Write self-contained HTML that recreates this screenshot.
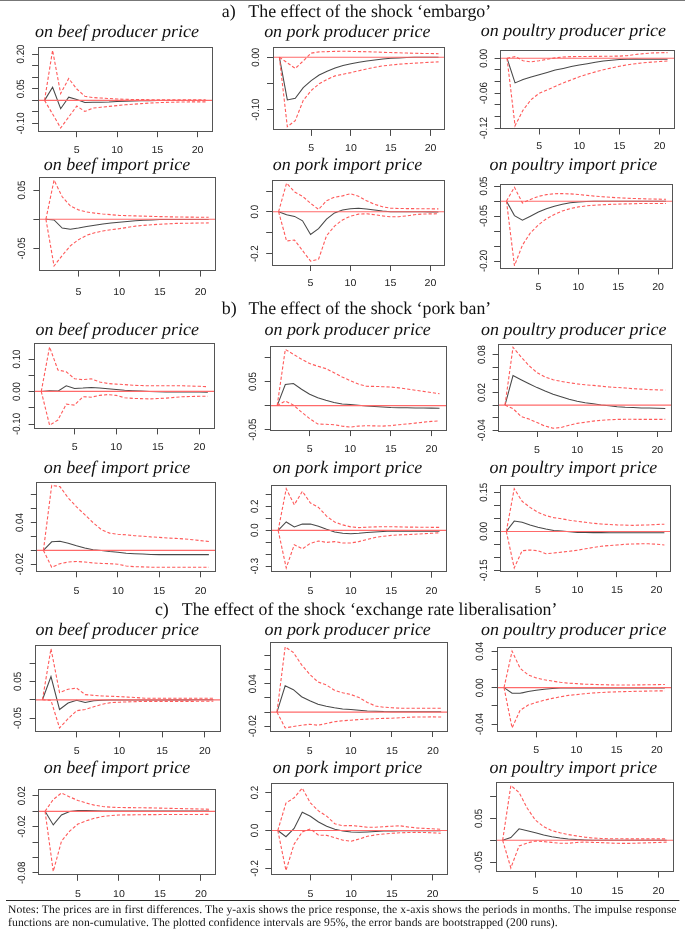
<!DOCTYPE html>
<html><head><meta charset="utf-8"><style>
html,body{margin:0;padding:0;background:#fff;}
svg{display:block;text-rendering:geometricPrecision;}
.ti{font-family:"Liberation Serif",serif;font-style:italic;font-size:17.7px;fill:#111;}
.hd{font-family:"Liberation Serif",serif;font-size:17.9px;fill:#111;}
.ax{font-family:"Liberation Sans",sans-serif;font-size:10.6px;fill:#222;}
.nt{font-family:"Liberation Serif",serif;font-size:11.6px;fill:#111;}
</style></head><body>
<svg width="685" height="932" viewBox="0 0 685 932">
<rect width="685" height="932" fill="#fff"/>
<g opacity="0.999">
<line x1="0" y1="0.5" x2="685" y2="0.5" stroke="#777" stroke-width="1"/>
<text x="221.8" y="16.5" class="hd">a)</text>
<text x="248.3" y="16.5" class="hd" textLength="242.9" lengthAdjust="spacingAndGlyphs">The effect of the shock ‘embargo’</text>
<text x="221.7" y="314.4" class="hd">b)</text>
<text x="248.5" y="314.4" class="hd" textLength="242.7" lengthAdjust="spacingAndGlyphs">The effect of the shock ‘pork ban’</text>
<text x="154.9" y="615" class="hd">c)</text>
<text x="181.8" y="615" class="hd" textLength="375.6" lengthAdjust="spacingAndGlyphs">The effect of the shock ‘exchange rate liberalisation’</text>
<text x="34.95" y="36.9" class="ti" textLength="164.2" lengthAdjust="spacingAndGlyphs">on beef producer price</text>
<polyline points="44.54,100.4 52.6,87.3 60.66,108.7 68.71,97.2 76.77,99.5 84.82,102.4 92.88,102.2 100.93,102.3 108.99,102 117.04,101.5 125.1,101.2 133.16,101 141.21,100.8 149.27,100.7 157.32,100.6 165.38,100.5 173.43,100.5 181.49,100.4 189.54,100.4 197.6,100.4 205.66,100.4" fill="none" stroke="#484848" stroke-width="1.05"/>
<line x1="38.1" y1="100.4" x2="212.1" y2="100.4" stroke="#ff6a6a" stroke-width="1.15"/>
<polyline points="44.54,100.4 52.6,50.3 60.66,93.6 68.71,78.5 76.77,89 84.82,96.2 92.88,97.6 100.93,98 108.99,98.5 117.04,99 125.1,99.3 133.16,99.5 141.21,99.6 149.27,99.7 157.32,99.7 165.38,99.7 173.43,99.7 181.49,99.7 189.54,99.7 197.6,99.7 205.66,99.7" fill="none" stroke="#ff5a5a" stroke-width="1.1" stroke-dasharray="3.2 2"/>
<polyline points="44.54,100.4 52.6,114 60.66,128 68.71,117 76.77,106.1 84.82,111.4 92.88,108.1 100.93,107.2 108.99,106.4 117.04,105.6 125.1,104.8 133.16,104.2 141.21,103.6 149.27,103.1 157.32,102.7 165.38,102.4 173.43,102.2 181.49,102 189.54,101.9 197.6,101.9 205.66,101.9" fill="none" stroke="#ff5a5a" stroke-width="1.1" stroke-dasharray="3.2 2"/>
<rect x="38.5" y="47.5" width="174" height="84" fill="none" stroke="#555555" stroke-width="1"/>
<line x1="76.5" y1="131.2" x2="76.5" y2="137.2" stroke="#4a4a4a" stroke-width="1"/>
<text transform="translate(76.77,152.6) scale(1,0.94)" class="ax" text-anchor="middle">5</text>
<line x1="117.5" y1="131.2" x2="117.5" y2="137.2" stroke="#4a4a4a" stroke-width="1"/>
<text transform="translate(117.04,152.6) scale(1,0.94)" class="ax" text-anchor="middle">10</text>
<line x1="157.5" y1="131.2" x2="157.5" y2="137.2" stroke="#4a4a4a" stroke-width="1"/>
<text transform="translate(157.32,152.6) scale(1,0.94)" class="ax" text-anchor="middle">15</text>
<line x1="197.5" y1="131.2" x2="197.5" y2="137.2" stroke="#4a4a4a" stroke-width="1"/>
<text transform="translate(197.6,152.6) scale(1,0.94)" class="ax" text-anchor="middle">20</text>
<line x1="32.1" y1="54.5" x2="38.1" y2="54.5" stroke="#4a4a4a" stroke-width="1"/>
<text transform="translate(23.7,54) rotate(-90) scale(0.92,1)" class="ax" text-anchor="middle">0.20</text>
<line x1="32.1" y1="65.5" x2="38.1" y2="65.5" stroke="#4a4a4a" stroke-width="1"/>
<line x1="32.1" y1="77.5" x2="38.1" y2="77.5" stroke="#4a4a4a" stroke-width="1"/>
<line x1="32.1" y1="88.5" x2="38.1" y2="88.5" stroke="#4a4a4a" stroke-width="1"/>
<text transform="translate(23.7,88.71) rotate(-90) scale(0.92,1)" class="ax" text-anchor="middle">0.05</text>
<line x1="32.1" y1="100.5" x2="38.1" y2="100.5" stroke="#4a4a4a" stroke-width="1"/>
<line x1="32.1" y1="111.5" x2="38.1" y2="111.5" stroke="#4a4a4a" stroke-width="1"/>
<line x1="32.1" y1="123.5" x2="38.1" y2="123.5" stroke="#4a4a4a" stroke-width="1"/>
<text transform="translate(23.7,123.42) rotate(-90) scale(0.92,1)" class="ax" text-anchor="middle">-0.10</text>
<text x="264.15" y="36.9" class="ti" textLength="166.3" lengthAdjust="spacingAndGlyphs">on pork producer price</text>
<polyline points="279.37,57.2 287.32,99.9 295.28,98.2 303.24,87.7 311.2,80.6 319.16,75 327.12,71.2 335.07,68 343.03,65.4 350.99,63.7 358.95,62.2 366.91,61 374.87,59.9 382.82,58.9 390.78,58.3 398.74,57.9 406.7,57.6 414.66,57.3 422.62,57.27 430.57,57.23 438.53,57.2" fill="none" stroke="#484848" stroke-width="1.05"/>
<line x1="273" y1="57.2" x2="444.9" y2="57.2" stroke="#ff6a6a" stroke-width="1.15"/>
<polyline points="279.37,57.2 287.32,62.8 295.28,68.4 303.24,61 311.2,53.1 319.16,51.9 327.12,51.6 335.07,51.4 343.03,51.2 350.99,51.4 358.95,51.6 366.91,51.7 374.87,52 382.82,52.3 390.78,52.55 398.74,52.8 406.7,53.05 414.66,53.3 422.62,53.43 430.57,53.57 438.53,53.7" fill="none" stroke="#ff5a5a" stroke-width="1.1" stroke-dasharray="3.2 2"/>
<polyline points="279.37,57.2 287.32,126.7 295.28,120.6 303.24,100.4 311.2,90.5 319.16,83.8 327.12,79.4 335.07,75.9 343.03,74.2 350.99,72.6 358.95,70.7 366.91,68.9 374.87,67.3 382.82,65.9 390.78,65.05 398.74,64.2 406.7,63.65 414.66,63.1 422.62,62.7 430.57,62.3 438.53,61.9" fill="none" stroke="#ff5a5a" stroke-width="1.1" stroke-dasharray="3.2 2"/>
<rect x="273.5" y="47.5" width="171" height="82" fill="none" stroke="#555555" stroke-width="1"/>
<line x1="311.5" y1="129.9" x2="311.5" y2="135.9" stroke="#4a4a4a" stroke-width="1"/>
<text transform="translate(311.2,151) scale(1,0.94)" class="ax" text-anchor="middle">5</text>
<line x1="350.5" y1="129.9" x2="350.5" y2="135.9" stroke="#4a4a4a" stroke-width="1"/>
<text transform="translate(350.99,151) scale(1,0.94)" class="ax" text-anchor="middle">10</text>
<line x1="390.5" y1="129.9" x2="390.5" y2="135.9" stroke="#4a4a4a" stroke-width="1"/>
<text transform="translate(390.78,151) scale(1,0.94)" class="ax" text-anchor="middle">15</text>
<line x1="430.5" y1="129.9" x2="430.5" y2="135.9" stroke="#4a4a4a" stroke-width="1"/>
<text transform="translate(430.57,151) scale(1,0.94)" class="ax" text-anchor="middle">20</text>
<line x1="267" y1="57.5" x2="273" y2="57.5" stroke="#4a4a4a" stroke-width="1"/>
<text transform="translate(258.9,57.2) rotate(-90) scale(0.92,1)" class="ax" text-anchor="middle">0.00</text>
<line x1="267" y1="83.5" x2="273" y2="83.5" stroke="#4a4a4a" stroke-width="1"/>
<line x1="267" y1="109.5" x2="273" y2="109.5" stroke="#4a4a4a" stroke-width="1"/>
<text transform="translate(258.9,109.6) rotate(-90) scale(0.92,1)" class="ax" text-anchor="middle">-0.10</text>
<text x="480.85" y="36.4" class="ti" textLength="185.2" lengthAdjust="spacingAndGlyphs">on poultry producer price</text>
<polyline points="507.02,58.2 515.05,82.9 523.08,79.4 531.11,77.1 539.13,74.7 547.16,72.4 555.19,70.1 563.22,68.4 571.24,66.6 579.27,65.1 587.3,63.7 595.33,62.2 603.36,61.1 611.38,60.2 619.41,59.6 627.44,59.2 635.47,59.1 643.49,59.2 651.52,59.23 659.55,59.27 667.58,59.3" fill="none" stroke="#484848" stroke-width="1.05"/>
<line x1="500.6" y1="58.2" x2="674" y2="58.2" stroke="#ff6a6a" stroke-width="1.15"/>
<polyline points="507.02,58.2 515.05,56.6 523.08,60.7 531.11,61.9 539.13,60.7 547.16,59.3 555.19,57.9 563.22,57 571.24,56.6 579.27,56.5 587.3,56.45 595.33,56.4 603.36,56.3 611.38,56.2 619.41,56.1 627.44,55.6 635.47,54.5 643.49,53.6 651.52,53 659.55,52.7 667.58,52.6" fill="none" stroke="#ff5a5a" stroke-width="1.1" stroke-dasharray="3.2 2"/>
<polyline points="507.02,58.2 515.05,125.8 523.08,110.1 531.11,99.6 539.13,93.4 547.16,89.9 555.19,86.4 563.22,82.9 571.24,79.9 579.27,76.8 587.3,74.2 595.33,71.9 603.36,69.8 611.38,68 619.41,66.3 627.44,64.8 635.47,63.75 643.49,62.7 651.52,62.13 659.55,61.57 667.58,61" fill="none" stroke="#ff5a5a" stroke-width="1.1" stroke-dasharray="3.2 2"/>
<rect x="500.5" y="50.5" width="174" height="78" fill="none" stroke="#555555" stroke-width="1"/>
<line x1="539.5" y1="128.5" x2="539.5" y2="134.5" stroke="#4a4a4a" stroke-width="1"/>
<text transform="translate(539.13,149) scale(1,0.94)" class="ax" text-anchor="middle">5</text>
<line x1="579.5" y1="128.5" x2="579.5" y2="134.5" stroke="#4a4a4a" stroke-width="1"/>
<text transform="translate(579.27,149) scale(1,0.94)" class="ax" text-anchor="middle">10</text>
<line x1="619.5" y1="128.5" x2="619.5" y2="134.5" stroke="#4a4a4a" stroke-width="1"/>
<text transform="translate(619.41,149) scale(1,0.94)" class="ax" text-anchor="middle">15</text>
<line x1="659.5" y1="128.5" x2="659.5" y2="134.5" stroke="#4a4a4a" stroke-width="1"/>
<text transform="translate(659.55,149) scale(1,0.94)" class="ax" text-anchor="middle">20</text>
<line x1="494.6" y1="58.5" x2="500.6" y2="58.5" stroke="#4a4a4a" stroke-width="1"/>
<text transform="translate(486.6,58.2) rotate(-90) scale(0.92,1)" class="ax" text-anchor="middle">0.00</text>
<line x1="494.6" y1="69.5" x2="500.6" y2="69.5" stroke="#4a4a4a" stroke-width="1"/>
<line x1="494.6" y1="81.5" x2="500.6" y2="81.5" stroke="#4a4a4a" stroke-width="1"/>
<line x1="494.6" y1="93.5" x2="500.6" y2="93.5" stroke="#4a4a4a" stroke-width="1"/>
<text transform="translate(486.6,93.15) rotate(-90) scale(0.92,1)" class="ax" text-anchor="middle">-0.06</text>
<line x1="494.6" y1="104.5" x2="500.6" y2="104.5" stroke="#4a4a4a" stroke-width="1"/>
<line x1="494.6" y1="116.5" x2="500.6" y2="116.5" stroke="#4a4a4a" stroke-width="1"/>
<line x1="494.6" y1="128.5" x2="500.6" y2="128.5" stroke="#4a4a4a" stroke-width="1"/>
<text transform="translate(486.6,128.1) rotate(-90) scale(0.92,1)" class="ax" text-anchor="middle">-0.12</text>
<text x="43.85" y="170.2" class="ti" textLength="146.4" lengthAdjust="spacingAndGlyphs">on beef import price</text>
<polyline points="45.91,219.2 54.05,219.9 62.19,228 70.33,229.2 78.47,228 86.61,226.6 94.74,225.2 102.88,223.9 111.02,223.1 119.16,222.2 127.3,221.4 135.44,220.8 143.58,220.3 151.72,219.9 159.86,219.6 167.99,219.5 176.13,219.4 184.27,219.4 192.41,219.4 200.55,219.4 208.69,219.4" fill="none" stroke="#484848" stroke-width="1.05"/>
<line x1="39.4" y1="219.2" x2="215.2" y2="219.2" stroke="#ff6a6a" stroke-width="1.15"/>
<polyline points="45.91,219.2 54.05,180.1 62.19,196.8 70.33,205.9 78.47,209.9 86.61,212 94.74,213.1 102.88,214 111.02,214.7 119.16,215.4 127.3,215.65 135.44,215.9 143.58,216.15 151.72,216.4 159.86,216.6 167.99,216.8 176.13,217 184.27,217.07 192.41,217.15 200.55,217.23 208.69,217.3" fill="none" stroke="#ff5a5a" stroke-width="1.1" stroke-dasharray="3.2 2"/>
<polyline points="45.91,219.2 54.05,266 62.19,255.5 70.33,245.8 78.47,239.7 86.61,235.3 94.74,232.7 102.88,231 111.02,229.7 119.16,228.7 127.3,227.4 135.44,226.1 143.58,225.4 151.72,224.7 159.86,224.27 167.99,223.83 176.13,223.4 184.27,223.28 192.41,223.15 200.55,223.03 208.69,222.9" fill="none" stroke="#ff5a5a" stroke-width="1.1" stroke-dasharray="3.2 2"/>
<rect x="39.5" y="177.5" width="176" height="93" fill="none" stroke="#555555" stroke-width="1"/>
<line x1="78.5" y1="270.6" x2="78.5" y2="276.6" stroke="#4a4a4a" stroke-width="1"/>
<text transform="translate(78.47,295) scale(1,0.94)" class="ax" text-anchor="middle">5</text>
<line x1="119.5" y1="270.6" x2="119.5" y2="276.6" stroke="#4a4a4a" stroke-width="1"/>
<text transform="translate(119.16,295) scale(1,0.94)" class="ax" text-anchor="middle">10</text>
<line x1="159.5" y1="270.6" x2="159.5" y2="276.6" stroke="#4a4a4a" stroke-width="1"/>
<text transform="translate(159.86,295) scale(1,0.94)" class="ax" text-anchor="middle">15</text>
<line x1="200.5" y1="270.6" x2="200.5" y2="276.6" stroke="#4a4a4a" stroke-width="1"/>
<text transform="translate(200.55,295) scale(1,0.94)" class="ax" text-anchor="middle">20</text>
<line x1="33.4" y1="190.5" x2="39.4" y2="190.5" stroke="#4a4a4a" stroke-width="1"/>
<text transform="translate(24.5,190.1) rotate(-90) scale(0.92,1)" class="ax" text-anchor="middle">0.05</text>
<line x1="33.4" y1="219.5" x2="39.4" y2="219.5" stroke="#4a4a4a" stroke-width="1"/>
<line x1="33.4" y1="248.5" x2="39.4" y2="248.5" stroke="#4a4a4a" stroke-width="1"/>
<text transform="translate(24.5,248.5) rotate(-90) scale(0.92,1)" class="ax" text-anchor="middle">-0.05</text>
<text x="272.85" y="170.2" class="ti" textLength="149.4" lengthAdjust="spacingAndGlyphs">on pork import price</text>
<polyline points="278.59,211.7 286.58,214.7 294.57,216.4 302.56,220.8 310.56,234.5 318.55,228.7 326.54,219.1 334.53,212.9 342.52,209.9 350.51,208.7 358.5,208.2 366.49,208.9 374.48,209.9 382.47,211 390.46,211.7 398.45,211.73 406.44,211.77 414.44,211.8 422.43,211.83 430.42,211.87 438.41,211.9" fill="none" stroke="#484848" stroke-width="1.05"/>
<line x1="272.2" y1="211.7" x2="444.8" y2="211.7" stroke="#ff6a6a" stroke-width="1.15"/>
<polyline points="278.59,211.7 286.58,183.1 294.57,191.9 302.56,196.3 310.56,203.3 318.55,209.4 326.54,200.7 334.53,197.2 342.52,195.9 350.51,193.7 358.5,196.3 366.49,200.7 374.48,204.2 382.47,206.8 390.46,208.2 398.45,208.5 406.44,208.58 414.44,208.66 422.43,208.74 430.42,208.82 438.41,208.9" fill="none" stroke="#ff5a5a" stroke-width="1.1" stroke-dasharray="3.2 2"/>
<polyline points="278.59,211.7 286.58,241 294.57,240.1 302.56,250.6 310.56,261.1 318.55,259.3 326.54,235.7 334.53,226.1 342.52,219.9 350.51,216.2 358.5,214.1 366.49,213.8 374.48,214.7 382.47,215.9 390.46,216.8 398.45,216.8 406.44,215.9 414.44,214.7 422.43,214 430.42,213.9 438.41,213.8" fill="none" stroke="#ff5a5a" stroke-width="1.1" stroke-dasharray="3.2 2"/>
<rect x="272.5" y="180.5" width="172" height="85" fill="none" stroke="#555555" stroke-width="1"/>
<line x1="310.5" y1="265" x2="310.5" y2="271" stroke="#4a4a4a" stroke-width="1"/>
<text transform="translate(310.56,286.2) scale(1,0.94)" class="ax" text-anchor="middle">5</text>
<line x1="350.5" y1="265" x2="350.5" y2="271" stroke="#4a4a4a" stroke-width="1"/>
<text transform="translate(350.51,286.2) scale(1,0.94)" class="ax" text-anchor="middle">10</text>
<line x1="390.5" y1="265" x2="390.5" y2="271" stroke="#4a4a4a" stroke-width="1"/>
<text transform="translate(390.46,286.2) scale(1,0.94)" class="ax" text-anchor="middle">15</text>
<line x1="430.5" y1="265" x2="430.5" y2="271" stroke="#4a4a4a" stroke-width="1"/>
<text transform="translate(430.42,286.2) scale(1,0.94)" class="ax" text-anchor="middle">20</text>
<line x1="266.2" y1="191.5" x2="272.2" y2="191.5" stroke="#4a4a4a" stroke-width="1"/>
<line x1="266.2" y1="211.5" x2="272.2" y2="211.5" stroke="#4a4a4a" stroke-width="1"/>
<text transform="translate(258.4,211.7) rotate(-90) scale(0.92,1)" class="ax" text-anchor="middle">0.0</text>
<line x1="266.2" y1="232.5" x2="272.2" y2="232.5" stroke="#4a4a4a" stroke-width="1"/>
<line x1="266.2" y1="253.5" x2="272.2" y2="253.5" stroke="#4a4a4a" stroke-width="1"/>
<text transform="translate(258.4,253.7) rotate(-90) scale(0.92,1)" class="ax" text-anchor="middle">-0.2</text>
<text x="489.45" y="170.2" class="ti" textLength="167.9" lengthAdjust="spacingAndGlyphs">on poultry import price</text>
<polyline points="506.48,201.2 514.46,215.6 522.44,220.2 530.41,216.2 538.39,212.1 546.37,208.8 554.34,206.2 562.32,204.3 570.3,202.7 578.27,201.9 586.25,201.5 594.23,201.2 602.2,201.2 610.18,201.2 618.16,201.2 626.13,201.2 634.11,201.2 642.09,201.2 650.06,201.2 658.04,201.2 666.02,201.2" fill="none" stroke="#484848" stroke-width="1.05"/>
<line x1="500.1" y1="201.2" x2="672.4" y2="201.2" stroke="#ff6a6a" stroke-width="1.15"/>
<polyline points="506.48,201.1 514.46,187.3 522.44,203 530.41,199.5 538.39,196.4 546.37,194.6 554.34,193.7 562.32,193.6 570.3,193.9 578.27,194.5 586.25,195.3 594.23,196.1 602.2,196.7 610.18,197.3 618.16,197.75 626.13,198.2 634.11,198.5 642.09,198.8 650.06,198.97 658.04,199.13 666.02,199.3" fill="none" stroke="#ff5a5a" stroke-width="1.1" stroke-dasharray="3.2 2"/>
<polyline points="506.48,201.1 514.46,265.7 522.44,245.1 530.41,232.8 538.39,224.9 546.37,218.8 554.34,214.4 562.32,210.9 570.3,208.6 578.27,206.9 586.25,205.9 594.23,205.2 602.2,204.8 610.18,204.4 618.16,204.15 626.13,203.9 634.11,203.7 642.09,203.5 650.06,203.5 658.04,203.5 666.02,203.5" fill="none" stroke="#ff5a5a" stroke-width="1.1" stroke-dasharray="3.2 2"/>
<rect x="500.5" y="184.5" width="172" height="84" fill="none" stroke="#555555" stroke-width="1"/>
<line x1="538.5" y1="268.5" x2="538.5" y2="274.5" stroke="#4a4a4a" stroke-width="1"/>
<text transform="translate(538.39,290) scale(1,0.94)" class="ax" text-anchor="middle">5</text>
<line x1="578.5" y1="268.5" x2="578.5" y2="274.5" stroke="#4a4a4a" stroke-width="1"/>
<text transform="translate(578.27,290) scale(1,0.94)" class="ax" text-anchor="middle">10</text>
<line x1="618.5" y1="268.5" x2="618.5" y2="274.5" stroke="#4a4a4a" stroke-width="1"/>
<text transform="translate(618.16,290) scale(1,0.94)" class="ax" text-anchor="middle">15</text>
<line x1="658.5" y1="268.5" x2="658.5" y2="274.5" stroke="#4a4a4a" stroke-width="1"/>
<text transform="translate(658.04,290) scale(1,0.94)" class="ax" text-anchor="middle">20</text>
<line x1="494.1" y1="186.5" x2="500.1" y2="186.5" stroke="#4a4a4a" stroke-width="1"/>
<text transform="translate(486.6,186) rotate(-90) scale(0.92,1)" class="ax" text-anchor="middle">0.05</text>
<line x1="494.1" y1="201.5" x2="500.1" y2="201.5" stroke="#4a4a4a" stroke-width="1"/>
<line x1="494.1" y1="216.5" x2="500.1" y2="216.5" stroke="#4a4a4a" stroke-width="1"/>
<text transform="translate(486.6,216) rotate(-90) scale(0.92,1)" class="ax" text-anchor="middle">-0.05</text>
<line x1="494.1" y1="231.5" x2="500.1" y2="231.5" stroke="#4a4a4a" stroke-width="1"/>
<line x1="494.1" y1="246.5" x2="500.1" y2="246.5" stroke="#4a4a4a" stroke-width="1"/>
<line x1="494.1" y1="261.5" x2="500.1" y2="261.5" stroke="#4a4a4a" stroke-width="1"/>
<text transform="translate(486.6,261) rotate(-90) scale(0.92,1)" class="ax" text-anchor="middle">-0.20</text>
<text x="35.45" y="334.8" class="ti" textLength="163.5" lengthAdjust="spacingAndGlyphs">on beef producer price</text>
<polyline points="41.26,391.4 49.59,390.7 57.92,391.1 66.25,385.8 74.58,388.4 82.91,388.1 91.24,387.6 99.56,388.1 107.89,388.8 116.22,389.5 124.55,390.2 132.88,390.7 141.21,391.1 149.54,391.4 157.86,391.65 166.19,391.9 174.52,391.94 182.85,391.98 191.18,392.02 199.51,392.06 207.84,392.1" fill="none" stroke="#484848" stroke-width="1.05"/>
<line x1="34.6" y1="391.4" x2="214.5" y2="391.4" stroke="#ff6a6a" stroke-width="1.15"/>
<polyline points="41.26,391.4 49.59,346.9 57.92,370 66.25,371.8 74.58,378.8 82.91,379.7 91.24,378.8 99.56,382 107.89,383.5 116.22,384.1 124.55,384.6 132.88,385.3 141.21,385.55 149.54,385.8 157.86,385.8 166.19,385.8 174.52,385.8 182.85,385.8 191.18,386.05 199.51,386.3 207.84,386.7" fill="none" stroke="#ff5a5a" stroke-width="1.1" stroke-dasharray="3.2 2"/>
<polyline points="41.26,391.4 49.59,425.2 57.92,420 66.25,404.2 74.58,405.1 82.91,396.7 91.24,397.2 99.56,395.4 107.89,394.6 116.22,395.4 124.55,397.7 132.88,398.4 141.21,398.65 149.54,398.9 157.86,398.5 166.19,398.1 174.52,397.4 182.85,396.7 191.18,396.5 199.51,396.3 207.84,396.3" fill="none" stroke="#ff5a5a" stroke-width="1.1" stroke-dasharray="3.2 2"/>
<rect x="34.5" y="343.5" width="180" height="85" fill="none" stroke="#555555" stroke-width="1"/>
<line x1="74.5" y1="428.4" x2="74.5" y2="434.4" stroke="#4a4a4a" stroke-width="1"/>
<text transform="translate(74.58,450.3) scale(1,0.94)" class="ax" text-anchor="middle">5</text>
<line x1="116.5" y1="428.4" x2="116.5" y2="434.4" stroke="#4a4a4a" stroke-width="1"/>
<text transform="translate(116.22,450.3) scale(1,0.94)" class="ax" text-anchor="middle">10</text>
<line x1="157.5" y1="428.4" x2="157.5" y2="434.4" stroke="#4a4a4a" stroke-width="1"/>
<text transform="translate(157.86,450.3) scale(1,0.94)" class="ax" text-anchor="middle">15</text>
<line x1="199.5" y1="428.4" x2="199.5" y2="434.4" stroke="#4a4a4a" stroke-width="1"/>
<text transform="translate(199.51,450.3) scale(1,0.94)" class="ax" text-anchor="middle">20</text>
<line x1="28.6" y1="359.5" x2="34.6" y2="359.5" stroke="#4a4a4a" stroke-width="1"/>
<text transform="translate(20.1,359) rotate(-90) scale(0.92,1)" class="ax" text-anchor="middle">0.10</text>
<line x1="28.6" y1="375.5" x2="34.6" y2="375.5" stroke="#4a4a4a" stroke-width="1"/>
<line x1="28.6" y1="391.5" x2="34.6" y2="391.5" stroke="#4a4a4a" stroke-width="1"/>
<text transform="translate(20.1,391.5) rotate(-90) scale(0.92,1)" class="ax" text-anchor="middle">0.00</text>
<line x1="28.6" y1="407.5" x2="34.6" y2="407.5" stroke="#4a4a4a" stroke-width="1"/>
<line x1="28.6" y1="424.5" x2="34.6" y2="424.5" stroke="#4a4a4a" stroke-width="1"/>
<text transform="translate(20.1,424) rotate(-90) scale(0.92,1)" class="ax" text-anchor="middle">-0.10</text>
<text x="264.45" y="334.8" class="ti" textLength="166.4" lengthAdjust="spacingAndGlyphs">on pork producer price</text>
<polyline points="277.19,405.6 285.31,384.6 293.42,383.5 301.54,389.3 309.66,394.2 317.77,397.7 325.89,400.3 334,402.4 342.12,403.9 350.23,404.5 358.35,405.2 366.47,406 374.58,406.5 382.7,406.9 390.81,407.4 398.93,407.7 407.04,407.85 415.16,408 423.28,408.07 431.39,408.13 439.51,408.2" fill="none" stroke="#484848" stroke-width="1.05"/>
<line x1="270.7" y1="405.6" x2="446" y2="405.6" stroke="#ff6a6a" stroke-width="1.15"/>
<polyline points="277.19,405.6 285.31,349.4 293.42,354.3 301.54,359.2 309.66,363.6 317.77,366.2 325.89,368.6 334,372.7 342.12,377 350.23,380.6 358.35,384.1 366.47,386.3 374.58,386.4 382.7,386.7 390.81,387 398.93,387.9 407.04,389 415.16,390.2 423.28,391.4 431.39,392.5 439.51,393.7" fill="none" stroke="#ff5a5a" stroke-width="1.1" stroke-dasharray="3.2 2"/>
<polyline points="277.19,405.6 285.31,401 293.42,405.1 301.54,412.1 309.66,418.7 317.77,424 325.89,424.3 334,424.7 342.12,426.1 350.23,427.1 358.35,426.1 366.47,425.7 374.58,425.9 382.7,426.1 390.81,425.6 398.93,424.7 407.04,424 415.16,423.1 423.28,422.2 431.39,421.4 439.51,420.8" fill="none" stroke="#ff5a5a" stroke-width="1.1" stroke-dasharray="3.2 2"/>
<rect x="270.5" y="346.5" width="176" height="84" fill="none" stroke="#555555" stroke-width="1"/>
<line x1="309.5" y1="430.1" x2="309.5" y2="436.1" stroke="#4a4a4a" stroke-width="1"/>
<text transform="translate(309.66,451.7) scale(1,0.94)" class="ax" text-anchor="middle">5</text>
<line x1="350.5" y1="430.1" x2="350.5" y2="436.1" stroke="#4a4a4a" stroke-width="1"/>
<text transform="translate(350.23,451.7) scale(1,0.94)" class="ax" text-anchor="middle">10</text>
<line x1="390.5" y1="430.1" x2="390.5" y2="436.1" stroke="#4a4a4a" stroke-width="1"/>
<text transform="translate(390.81,451.7) scale(1,0.94)" class="ax" text-anchor="middle">15</text>
<line x1="431.5" y1="430.1" x2="431.5" y2="436.1" stroke="#4a4a4a" stroke-width="1"/>
<text transform="translate(431.39,451.7) scale(1,0.94)" class="ax" text-anchor="middle">20</text>
<line x1="264.7" y1="357.5" x2="270.7" y2="357.5" stroke="#4a4a4a" stroke-width="1"/>
<line x1="264.7" y1="381.5" x2="270.7" y2="381.5" stroke="#4a4a4a" stroke-width="1"/>
<text transform="translate(255.8,381.6) rotate(-90) scale(0.92,1)" class="ax" text-anchor="middle">0.05</text>
<line x1="264.7" y1="405.5" x2="270.7" y2="405.5" stroke="#4a4a4a" stroke-width="1"/>
<line x1="264.7" y1="429.5" x2="270.7" y2="429.5" stroke="#4a4a4a" stroke-width="1"/>
<text transform="translate(255.8,429.7) rotate(-90) scale(0.92,1)" class="ax" text-anchor="middle">-0.05</text>
<text x="481.05" y="334.8" class="ti" textLength="185.4" lengthAdjust="spacingAndGlyphs">on poultry producer price</text>
<polyline points="505.01,405.1 513.02,375.6 521.04,379.7 529.05,383.7 537.07,387.6 545.08,391.1 553.09,394.2 561.11,396.8 569.12,399.3 577.14,401.2 585.15,402.8 593.16,403.8 601.18,405 609.19,405.8 617.21,406.7 625.22,407.2 633.23,407.5 641.25,407.9 649.26,408.05 657.28,408.2 665.29,408.4" fill="none" stroke="#484848" stroke-width="1.05"/>
<line x1="498.6" y1="405.1" x2="671.7" y2="405.1" stroke="#ff6a6a" stroke-width="1.15"/>
<polyline points="505.01,405.1 513.02,347.3 521.04,356.9 529.05,365.7 537.07,372.7 545.08,377 553.09,379.7 561.11,381.4 569.12,382.7 577.14,383.9 585.15,384.8 593.16,385.4 601.18,386.2 609.19,387 617.21,387.5 625.22,388 633.23,388.7 641.25,389.1 649.26,389.6 657.28,389.9 665.29,390.1" fill="none" stroke="#ff5a5a" stroke-width="1.1" stroke-dasharray="3.2 2"/>
<polyline points="505.01,405.1 513.02,408.6 521.04,416.5 529.05,419.1 537.07,422.6 545.08,426.1 553.09,428.2 561.11,427.5 569.12,425.2 577.14,423.4 585.15,422.3 593.16,421.1 601.18,420.3 609.19,419.8 617.21,419.4 625.22,419.3 633.23,419.32 641.25,419.34 649.26,419.36 657.28,419.38 665.29,419.4" fill="none" stroke="#ff5a5a" stroke-width="1.1" stroke-dasharray="3.2 2"/>
<rect x="498.5" y="344.5" width="173" height="87" fill="none" stroke="#555555" stroke-width="1"/>
<line x1="537.5" y1="431" x2="537.5" y2="437" stroke="#4a4a4a" stroke-width="1"/>
<text transform="translate(537.07,453.3) scale(1,0.94)" class="ax" text-anchor="middle">5</text>
<line x1="577.5" y1="431" x2="577.5" y2="437" stroke="#4a4a4a" stroke-width="1"/>
<text transform="translate(577.14,453.3) scale(1,0.94)" class="ax" text-anchor="middle">10</text>
<line x1="617.5" y1="431" x2="617.5" y2="437" stroke="#4a4a4a" stroke-width="1"/>
<text transform="translate(617.21,453.3) scale(1,0.94)" class="ax" text-anchor="middle">15</text>
<line x1="657.5" y1="431" x2="657.5" y2="437" stroke="#4a4a4a" stroke-width="1"/>
<text transform="translate(657.28,453.3) scale(1,0.94)" class="ax" text-anchor="middle">20</text>
<line x1="492.6" y1="354.5" x2="498.6" y2="354.5" stroke="#4a4a4a" stroke-width="1"/>
<text transform="translate(484.9,354.6) rotate(-90) scale(0.92,1)" class="ax" text-anchor="middle">0.08</text>
<line x1="492.6" y1="367.5" x2="498.6" y2="367.5" stroke="#4a4a4a" stroke-width="1"/>
<line x1="492.6" y1="379.5" x2="498.6" y2="379.5" stroke="#4a4a4a" stroke-width="1"/>
<line x1="492.6" y1="392.5" x2="498.6" y2="392.5" stroke="#4a4a4a" stroke-width="1"/>
<text transform="translate(484.9,392.55) rotate(-90) scale(0.92,1)" class="ax" text-anchor="middle">0.02</text>
<line x1="492.6" y1="405.5" x2="498.6" y2="405.5" stroke="#4a4a4a" stroke-width="1"/>
<line x1="492.6" y1="417.5" x2="498.6" y2="417.5" stroke="#4a4a4a" stroke-width="1"/>
<line x1="492.6" y1="430.5" x2="498.6" y2="430.5" stroke="#4a4a4a" stroke-width="1"/>
<text transform="translate(484.9,430.5) rotate(-90) scale(0.92,1)" class="ax" text-anchor="middle">-0.04</text>
<text x="43.85" y="473.4" class="ti" textLength="146.4" lengthAdjust="spacingAndGlyphs">on beef import price</text>
<polyline points="43.42,550.4 51.69,541.8 59.96,541.3 68.24,543.2 76.51,545.7 84.78,548 93.06,549.7 101.33,550.6 109.6,551.6 117.88,552.3 126.15,553.2 134.42,553.7 142.7,554.1 150.97,554.4 159.24,554.6 167.52,554.6 175.79,554.6 184.06,554.6 192.34,554.6 200.61,554.6 208.88,554.6" fill="none" stroke="#484848" stroke-width="1.05"/>
<line x1="36.8" y1="550.4" x2="215.5" y2="550.4" stroke="#ff6a6a" stroke-width="1.15"/>
<polyline points="43.42,550.4 51.69,485.4 59.96,486.6 68.24,498 76.51,506.8 84.78,514.7 93.06,522.6 101.33,529.6 109.6,533.1 117.88,534.3 126.15,534.8 134.42,535.7 142.7,536.2 150.97,536.9 159.24,537.4 167.52,538 175.79,538.4 184.06,538.9 192.34,539.7 200.61,540.6 208.88,541.5" fill="none" stroke="#ff5a5a" stroke-width="1.1" stroke-dasharray="3.2 2"/>
<polyline points="43.42,550.4 51.69,567.2 59.96,563.7 68.24,562 76.51,561.5 84.78,562 93.06,562.9 101.33,563.4 109.6,563.7 117.88,564.2 126.15,566 134.42,566.7 142.7,566.9 150.97,567.2 159.24,567.2 167.52,567.2 175.79,567.2 184.06,567.2 192.34,567.2 200.61,567.2 208.88,567.2" fill="none" stroke="#ff5a5a" stroke-width="1.1" stroke-dasharray="3.2 2"/>
<rect x="36.5" y="482.5" width="179" height="89" fill="none" stroke="#555555" stroke-width="1"/>
<line x1="76.5" y1="571.3" x2="76.5" y2="577.3" stroke="#4a4a4a" stroke-width="1"/>
<text transform="translate(76.51,593.7) scale(1,0.94)" class="ax" text-anchor="middle">5</text>
<line x1="117.5" y1="571.3" x2="117.5" y2="577.3" stroke="#4a4a4a" stroke-width="1"/>
<text transform="translate(117.88,593.7) scale(1,0.94)" class="ax" text-anchor="middle">10</text>
<line x1="159.5" y1="571.3" x2="159.5" y2="577.3" stroke="#4a4a4a" stroke-width="1"/>
<text transform="translate(159.24,593.7) scale(1,0.94)" class="ax" text-anchor="middle">15</text>
<line x1="200.5" y1="571.3" x2="200.5" y2="577.3" stroke="#4a4a4a" stroke-width="1"/>
<text transform="translate(200.61,593.7) scale(1,0.94)" class="ax" text-anchor="middle">20</text>
<line x1="30.8" y1="494.5" x2="36.8" y2="494.5" stroke="#4a4a4a" stroke-width="1"/>
<line x1="30.8" y1="508.5" x2="36.8" y2="508.5" stroke="#4a4a4a" stroke-width="1"/>
<line x1="30.8" y1="522.5" x2="36.8" y2="522.5" stroke="#4a4a4a" stroke-width="1"/>
<text transform="translate(22.8,522.6) rotate(-90) scale(0.92,1)" class="ax" text-anchor="middle">0.04</text>
<line x1="30.8" y1="536.5" x2="36.8" y2="536.5" stroke="#4a4a4a" stroke-width="1"/>
<line x1="30.8" y1="550.5" x2="36.8" y2="550.5" stroke="#4a4a4a" stroke-width="1"/>
<line x1="30.8" y1="564.5" x2="36.8" y2="564.5" stroke="#4a4a4a" stroke-width="1"/>
<text transform="translate(22.8,564.3) rotate(-90) scale(0.92,1)" class="ax" text-anchor="middle">-0.02</text>
<text x="272.85" y="473.4" class="ti" textLength="149.4" lengthAdjust="spacingAndGlyphs">on pork import price</text>
<polyline points="278.16,530.4 286.22,522 294.29,527 302.36,524.1 310.43,524.1 318.5,526.3 326.57,529.3 334.64,531.9 342.71,533.3 350.78,533.7 358.85,533.3 366.92,532.5 374.99,531.9 383.06,531.4 391.13,531.1 399.2,531.1 407.27,531.1 415.34,531.1 423.41,531.1 431.48,531.1 439.54,531.1" fill="none" stroke="#484848" stroke-width="1.05"/>
<line x1="271.7" y1="530.4" x2="446" y2="530.4" stroke="#ff6a6a" stroke-width="1.15"/>
<polyline points="278.16,530.4 286.22,488.7 294.29,504.8 302.36,491.3 310.43,503 318.5,507.4 326.57,516.2 334.64,522 342.71,524.9 350.78,526.9 358.85,527.6 366.92,527.2 374.99,526.9 383.06,526.7 391.13,526.7 399.2,526.9 407.27,527.1 415.34,527.17 423.41,527.25 431.48,527.33 439.54,527.4" fill="none" stroke="#ff5a5a" stroke-width="1.1" stroke-dasharray="3.2 2"/>
<polyline points="278.16,530.4 286.22,567.9 294.29,544.7 302.36,548.9 310.43,543.3 318.5,541 326.57,542.4 334.64,541.6 342.71,543 350.78,543 358.85,541.6 366.92,539.5 374.99,537.5 383.06,536.3 391.13,535.4 399.2,534.9 407.27,534.6 415.34,534.2 423.41,533.7 431.48,533.3 439.54,532.8" fill="none" stroke="#ff5a5a" stroke-width="1.1" stroke-dasharray="3.2 2"/>
<rect x="271.5" y="485.5" width="175" height="86" fill="none" stroke="#555555" stroke-width="1"/>
<line x1="310.5" y1="571.7" x2="310.5" y2="577.7" stroke="#4a4a4a" stroke-width="1"/>
<text transform="translate(310.43,594.1) scale(1,0.94)" class="ax" text-anchor="middle">5</text>
<line x1="350.5" y1="571.7" x2="350.5" y2="577.7" stroke="#4a4a4a" stroke-width="1"/>
<text transform="translate(350.78,594.1) scale(1,0.94)" class="ax" text-anchor="middle">10</text>
<line x1="391.5" y1="571.7" x2="391.5" y2="577.7" stroke="#4a4a4a" stroke-width="1"/>
<text transform="translate(391.13,594.1) scale(1,0.94)" class="ax" text-anchor="middle">15</text>
<line x1="431.5" y1="571.7" x2="431.5" y2="577.7" stroke="#4a4a4a" stroke-width="1"/>
<text transform="translate(431.48,594.1) scale(1,0.94)" class="ax" text-anchor="middle">20</text>
<line x1="265.7" y1="494.5" x2="271.7" y2="494.5" stroke="#4a4a4a" stroke-width="1"/>
<line x1="265.7" y1="506.5" x2="271.7" y2="506.5" stroke="#4a4a4a" stroke-width="1"/>
<text transform="translate(257.5,506.27) rotate(-90) scale(0.92,1)" class="ax" text-anchor="middle">0.2</text>
<line x1="265.7" y1="518.5" x2="271.7" y2="518.5" stroke="#4a4a4a" stroke-width="1"/>
<line x1="265.7" y1="530.5" x2="271.7" y2="530.5" stroke="#4a4a4a" stroke-width="1"/>
<text transform="translate(257.5,530.21) rotate(-90) scale(0.92,1)" class="ax" text-anchor="middle">0.0</text>
<line x1="265.7" y1="542.5" x2="271.7" y2="542.5" stroke="#4a4a4a" stroke-width="1"/>
<line x1="265.7" y1="554.5" x2="271.7" y2="554.5" stroke="#4a4a4a" stroke-width="1"/>
<line x1="265.7" y1="566.5" x2="271.7" y2="566.5" stroke="#4a4a4a" stroke-width="1"/>
<text transform="translate(257.5,566.12) rotate(-90) scale(0.92,1)" class="ax" text-anchor="middle">-0.3</text>
<text x="489.45" y="473.4" class="ti" textLength="167.9" lengthAdjust="spacingAndGlyphs">on poultry import price</text>
<polyline points="506.32,531.4 514.23,521.1 522.13,522.3 530.03,524.9 537.93,527.2 545.84,529 553.74,530.4 561.64,531.1 569.54,531.8 577.45,532.4 585.35,532.6 593.25,532.62 601.16,532.64 609.06,532.66 616.96,532.68 624.86,532.7 632.77,532.72 640.67,532.74 648.57,532.76 656.48,532.78 664.38,532.8" fill="none" stroke="#484848" stroke-width="1.05"/>
<line x1="500" y1="531.5" x2="670.7" y2="531.5" stroke="#ff6a6a" stroke-width="1.15"/>
<polyline points="506.32,531.4 514.23,488.7 522.13,501.3 530.03,507.4 537.93,512.3 545.84,515.6 553.74,517.6 561.64,518.8 569.54,520.2 577.45,521.3 585.35,522.3 593.25,523.3 601.16,524 609.06,524.5 616.96,524.9 624.86,525.1 632.77,525.4 640.67,525.1 648.57,524.9 656.48,524.5 664.38,524.2" fill="none" stroke="#ff5a5a" stroke-width="1.1" stroke-dasharray="3.2 2"/>
<polyline points="506.32,531.4 514.23,567.9 522.13,550.7 530.03,550 537.93,550.7 545.84,553.8 553.74,553 561.64,552.1 569.54,551.2 577.45,550.2 585.35,548.8 593.25,547.5 601.16,546.3 609.06,545.5 616.96,545 624.86,544.3 632.77,544 640.67,543.8 648.57,543.8 656.48,544.2 664.38,545" fill="none" stroke="#ff5a5a" stroke-width="1.1" stroke-dasharray="3.2 2"/>
<rect x="500.5" y="485.5" width="170" height="86" fill="none" stroke="#555555" stroke-width="1"/>
<line x1="537.5" y1="571.2" x2="537.5" y2="577.2" stroke="#4a4a4a" stroke-width="1"/>
<text transform="translate(537.93,593.3) scale(1,0.94)" class="ax" text-anchor="middle">5</text>
<line x1="577.5" y1="571.2" x2="577.5" y2="577.2" stroke="#4a4a4a" stroke-width="1"/>
<text transform="translate(577.45,593.3) scale(1,0.94)" class="ax" text-anchor="middle">10</text>
<line x1="616.5" y1="571.2" x2="616.5" y2="577.2" stroke="#4a4a4a" stroke-width="1"/>
<text transform="translate(616.96,593.3) scale(1,0.94)" class="ax" text-anchor="middle">15</text>
<line x1="656.5" y1="571.2" x2="656.5" y2="577.2" stroke="#4a4a4a" stroke-width="1"/>
<text transform="translate(656.48,593.3) scale(1,0.94)" class="ax" text-anchor="middle">20</text>
<line x1="494" y1="492.5" x2="500" y2="492.5" stroke="#4a4a4a" stroke-width="1"/>
<text transform="translate(486.6,492.2) rotate(-90) scale(0.92,1)" class="ax" text-anchor="middle">0.15</text>
<line x1="494" y1="505.5" x2="500" y2="505.5" stroke="#4a4a4a" stroke-width="1"/>
<line x1="494" y1="518.5" x2="500" y2="518.5" stroke="#4a4a4a" stroke-width="1"/>
<line x1="494" y1="531.5" x2="500" y2="531.5" stroke="#4a4a4a" stroke-width="1"/>
<text transform="translate(486.6,531.35) rotate(-90) scale(0.92,1)" class="ax" text-anchor="middle">0.00</text>
<line x1="494" y1="544.5" x2="500" y2="544.5" stroke="#4a4a4a" stroke-width="1"/>
<line x1="494" y1="557.5" x2="500" y2="557.5" stroke="#4a4a4a" stroke-width="1"/>
<line x1="494" y1="570.5" x2="500" y2="570.5" stroke="#4a4a4a" stroke-width="1"/>
<text transform="translate(486.6,570.5) rotate(-90) scale(0.92,1)" class="ax" text-anchor="middle">-0.15</text>
<text x="35.45" y="635.4" class="ti" textLength="163.5" lengthAdjust="spacingAndGlyphs">on beef producer price</text>
<polyline points="42.44,699.8 50.98,676.5 59.53,709.5 68.08,703 76.62,700.3 85.17,702.4 93.71,700.7 102.26,700.2 110.81,700 119.35,699.98 127.9,699.97 136.45,699.95 144.99,699.93 153.54,699.92 162.09,699.9 170.63,699.88 179.18,699.87 187.72,699.85 196.27,699.83 204.82,699.82 213.36,699.8" fill="none" stroke="#484848" stroke-width="1.05"/>
<line x1="35.6" y1="699.8" x2="220.2" y2="699.8" stroke="#ff6a6a" stroke-width="1.15"/>
<polyline points="42.44,699.8 50.98,648.7 59.53,692.5 68.08,689.3 76.62,688.1 85.17,694.6 93.71,695.4 102.26,696 110.81,696.3 119.35,696.6 127.9,697.1 136.45,697.6 144.99,698.2 153.54,698.3 162.09,698.3 170.63,698.3 179.18,698.3 187.72,698.3 196.27,698.3 204.82,698.3 213.36,698.3" fill="none" stroke="#ff5a5a" stroke-width="1.1" stroke-dasharray="3.2 2"/>
<polyline points="42.44,699.8 50.98,700.3 59.53,727.9 68.08,718.7 76.62,710.7 85.17,709.5 93.71,706.8 102.26,704.2 110.81,702.6 119.35,702.2 127.9,701.9 136.45,701.6 144.99,701.4 153.54,701.39 162.09,701.38 170.63,701.36 179.18,701.35 187.72,701.34 196.27,701.32 204.82,701.31 213.36,701.3" fill="none" stroke="#ff5a5a" stroke-width="1.1" stroke-dasharray="3.2 2"/>
<rect x="35.5" y="645.5" width="185" height="86" fill="none" stroke="#555555" stroke-width="1"/>
<line x1="76.5" y1="731.4" x2="76.5" y2="737.4" stroke="#4a4a4a" stroke-width="1"/>
<text transform="translate(76.62,753.5) scale(1,0.94)" class="ax" text-anchor="middle">5</text>
<line x1="119.5" y1="731.4" x2="119.5" y2="737.4" stroke="#4a4a4a" stroke-width="1"/>
<text transform="translate(119.35,753.5) scale(1,0.94)" class="ax" text-anchor="middle">10</text>
<line x1="162.5" y1="731.4" x2="162.5" y2="737.4" stroke="#4a4a4a" stroke-width="1"/>
<text transform="translate(162.09,753.5) scale(1,0.94)" class="ax" text-anchor="middle">15</text>
<line x1="204.5" y1="731.4" x2="204.5" y2="737.4" stroke="#4a4a4a" stroke-width="1"/>
<text transform="translate(204.82,753.5) scale(1,0.94)" class="ax" text-anchor="middle">20</text>
<line x1="29.6" y1="663.5" x2="35.6" y2="663.5" stroke="#4a4a4a" stroke-width="1"/>
<line x1="29.6" y1="681.5" x2="35.6" y2="681.5" stroke="#4a4a4a" stroke-width="1"/>
<text transform="translate(20.5,681.4) rotate(-90) scale(0.92,1)" class="ax" text-anchor="middle">0.05</text>
<line x1="29.6" y1="699.5" x2="35.6" y2="699.5" stroke="#4a4a4a" stroke-width="1"/>
<line x1="29.6" y1="718.5" x2="35.6" y2="718.5" stroke="#4a4a4a" stroke-width="1"/>
<text transform="translate(20.5,718.2) rotate(-90) scale(0.92,1)" class="ax" text-anchor="middle">-0.05</text>
<text x="264.45" y="635.4" class="ti" textLength="166.4" lengthAdjust="spacingAndGlyphs">on pork producer price</text>
<polyline points="276.97,712.1 285.17,685.8 293.38,689.7 301.59,696.7 309.8,700.7 318.01,704.2 326.22,706.3 334.42,707.7 342.63,708.9 350.84,709.6 359.05,710.3 367.26,710.9 375.47,711.2 383.67,711.6 391.88,711.7 400.09,711.7 408.3,711.7 416.51,711.7 424.72,711.7 432.92,711.7 441.13,711.7" fill="none" stroke="#484848" stroke-width="1.05"/>
<line x1="270.4" y1="712.1" x2="447.7" y2="712.1" stroke="#ff6a6a" stroke-width="1.15"/>
<polyline points="276.97,712.1 285.17,646.9 293.38,652.5 301.59,664.8 309.8,674.4 318.01,682 326.22,684.9 334.42,690.2 342.63,692.8 350.84,694.5 359.05,697.6 367.26,702.4 375.47,706 383.67,707.2 391.88,707.7 400.09,708.2 408.3,708.2 416.51,708.2 424.72,708.2 432.92,708.2 441.13,708.2" fill="none" stroke="#ff5a5a" stroke-width="1.1" stroke-dasharray="3.2 2"/>
<polyline points="276.97,712.1 285.17,727.9 293.38,726.5 301.59,725.2 309.8,724.3 318.01,725.2 326.22,723.5 334.42,721.7 342.63,720.8 350.84,720.2 359.05,719.6 367.26,719.1 375.47,718.7 383.67,718.4 391.88,718.2 400.09,717.8 408.3,717.3 416.51,717 424.72,716.95 432.92,716.9 441.13,717" fill="none" stroke="#ff5a5a" stroke-width="1.1" stroke-dasharray="3.2 2"/>
<rect x="270.5" y="642.5" width="177" height="89" fill="none" stroke="#555555" stroke-width="1"/>
<line x1="309.5" y1="731" x2="309.5" y2="737" stroke="#4a4a4a" stroke-width="1"/>
<text transform="translate(309.8,753.5) scale(1,0.94)" class="ax" text-anchor="middle">5</text>
<line x1="350.5" y1="731" x2="350.5" y2="737" stroke="#4a4a4a" stroke-width="1"/>
<text transform="translate(350.84,753.5) scale(1,0.94)" class="ax" text-anchor="middle">10</text>
<line x1="391.5" y1="731" x2="391.5" y2="737" stroke="#4a4a4a" stroke-width="1"/>
<text transform="translate(391.88,753.5) scale(1,0.94)" class="ax" text-anchor="middle">15</text>
<line x1="432.5" y1="731" x2="432.5" y2="737" stroke="#4a4a4a" stroke-width="1"/>
<text transform="translate(432.92,753.5) scale(1,0.94)" class="ax" text-anchor="middle">20</text>
<line x1="264.4" y1="655.5" x2="270.4" y2="655.5" stroke="#4a4a4a" stroke-width="1"/>
<line x1="264.4" y1="669.5" x2="270.4" y2="669.5" stroke="#4a4a4a" stroke-width="1"/>
<line x1="264.4" y1="683.5" x2="270.4" y2="683.5" stroke="#4a4a4a" stroke-width="1"/>
<text transform="translate(256.1,683.86) rotate(-90) scale(0.92,1)" class="ax" text-anchor="middle">0.04</text>
<line x1="264.4" y1="697.5" x2="270.4" y2="697.5" stroke="#4a4a4a" stroke-width="1"/>
<line x1="264.4" y1="712.5" x2="270.4" y2="712.5" stroke="#4a4a4a" stroke-width="1"/>
<line x1="264.4" y1="726.5" x2="270.4" y2="726.5" stroke="#4a4a4a" stroke-width="1"/>
<text transform="translate(256.1,726.1) rotate(-90) scale(0.92,1)" class="ax" text-anchor="middle">-0.02</text>
<text x="481.05" y="635.4" class="ti" textLength="185.4" lengthAdjust="spacingAndGlyphs">on poultry producer price</text>
<polyline points="504.03,687.6 512.08,693.3 520.12,693.3 528.16,691.4 536.2,690.2 544.24,689.3 552.28,688.6 560.33,688.1 568.37,688 576.41,687.9 584.45,687.9 592.49,687.9 600.53,687.9 608.57,687.9 616.62,687.9 624.66,687.9 632.7,687.9 640.74,687.9 648.78,687.9 656.82,687.9 664.87,687.9" fill="none" stroke="#484848" stroke-width="1.05"/>
<line x1="497.6" y1="687.6" x2="671.3" y2="687.6" stroke="#ff6a6a" stroke-width="1.15"/>
<polyline points="504.03,687.6 512.08,651.1 520.12,668.3 528.16,674.9 536.2,677.9 544.24,679.7 552.28,681.1 560.33,682.3 568.37,683.2 576.41,683.6 584.45,684.2 592.49,684.4 600.53,684.65 608.57,684.9 616.62,684.95 624.66,685 632.7,684.95 640.74,684.9 648.78,684.75 656.82,684.6 664.87,684.5" fill="none" stroke="#ff5a5a" stroke-width="1.1" stroke-dasharray="3.2 2"/>
<polyline points="504.03,687.6 512.08,727.9 520.12,710.3 528.16,705.1 536.2,702.4 544.24,700.2 552.28,698.4 560.33,696.8 568.37,695.4 576.41,694.6 584.45,693.8 592.49,693 600.53,692.55 608.57,692.1 616.62,691.85 624.66,691.6 632.7,691.4 640.74,691.2 648.78,691.05 656.82,690.9 664.87,690.9" fill="none" stroke="#ff5a5a" stroke-width="1.1" stroke-dasharray="3.2 2"/>
<rect x="497.5" y="647.5" width="174" height="84" fill="none" stroke="#555555" stroke-width="1"/>
<line x1="536.5" y1="731.4" x2="536.5" y2="737.4" stroke="#4a4a4a" stroke-width="1"/>
<text transform="translate(536.2,752.5) scale(1,0.94)" class="ax" text-anchor="middle">5</text>
<line x1="576.5" y1="731.4" x2="576.5" y2="737.4" stroke="#4a4a4a" stroke-width="1"/>
<text transform="translate(576.41,752.5) scale(1,0.94)" class="ax" text-anchor="middle">10</text>
<line x1="616.5" y1="731.4" x2="616.5" y2="737.4" stroke="#4a4a4a" stroke-width="1"/>
<text transform="translate(616.62,752.5) scale(1,0.94)" class="ax" text-anchor="middle">15</text>
<line x1="656.5" y1="731.4" x2="656.5" y2="737.4" stroke="#4a4a4a" stroke-width="1"/>
<text transform="translate(656.82,752.5) scale(1,0.94)" class="ax" text-anchor="middle">20</text>
<line x1="491.6" y1="651.5" x2="497.6" y2="651.5" stroke="#4a4a4a" stroke-width="1"/>
<text transform="translate(483.1,651.3) rotate(-90) scale(0.92,1)" class="ax" text-anchor="middle">0.04</text>
<line x1="491.6" y1="669.5" x2="497.6" y2="669.5" stroke="#4a4a4a" stroke-width="1"/>
<line x1="491.6" y1="687.5" x2="497.6" y2="687.5" stroke="#4a4a4a" stroke-width="1"/>
<text transform="translate(483.1,687.7) rotate(-90) scale(0.92,1)" class="ax" text-anchor="middle">0.00</text>
<line x1="491.6" y1="705.5" x2="497.6" y2="705.5" stroke="#4a4a4a" stroke-width="1"/>
<line x1="491.6" y1="724.5" x2="497.6" y2="724.5" stroke="#4a4a4a" stroke-width="1"/>
<text transform="translate(483.1,724.1) rotate(-90) scale(0.92,1)" class="ax" text-anchor="middle">-0.04</text>
<text x="43.85" y="773.2" class="ti" textLength="146.4" lengthAdjust="spacingAndGlyphs">on beef import price</text>
<polyline points="45.06,811.3 53.27,824.9 61.47,815 69.67,811.4 77.88,810.6 86.08,810.6 94.29,810.7 102.49,810.9 110.69,810.92 118.9,810.93 127.1,810.95 135.3,810.96 143.51,810.98 151.71,810.99 159.91,811.01 168.12,811.02 176.32,811.04 184.53,811.05 192.73,811.07 200.93,811.08 209.14,811.1" fill="none" stroke="#484848" stroke-width="1.05"/>
<line x1="38.5" y1="811.3" x2="215.7" y2="811.3" stroke="#ff6a6a" stroke-width="1.15"/>
<polyline points="45.06,811.3 53.27,799.5 61.47,793 69.67,796.9 77.88,800.4 86.08,803 94.29,805.1 102.49,806.5 110.69,807.2 118.9,807.5 127.1,807.6 135.3,807.7 143.51,807.8 151.71,807.9 159.91,808.1 168.12,808.3 176.32,808.5 184.53,808.67 192.73,808.85 200.93,809.03 209.14,809.2" fill="none" stroke="#ff5a5a" stroke-width="1.1" stroke-dasharray="3.2 2"/>
<polyline points="45.06,811.3 53.27,871.4 61.47,841.2 69.67,831.1 77.88,824.1 86.08,820.9 94.29,818.3 102.49,816.5 110.69,815.6 118.9,815 127.1,814.9 135.3,814.8 143.51,814.7 151.71,814.6 159.91,814.57 168.12,814.54 176.32,814.51 184.53,814.49 192.73,814.46 200.93,814.43 209.14,814.4" fill="none" stroke="#ff5a5a" stroke-width="1.1" stroke-dasharray="3.2 2"/>
<rect x="38.5" y="789.5" width="177" height="85" fill="none" stroke="#555555" stroke-width="1"/>
<line x1="77.5" y1="874.8" x2="77.5" y2="880.8" stroke="#4a4a4a" stroke-width="1"/>
<text transform="translate(77.88,896.8) scale(1,0.94)" class="ax" text-anchor="middle">5</text>
<line x1="118.5" y1="874.8" x2="118.5" y2="880.8" stroke="#4a4a4a" stroke-width="1"/>
<text transform="translate(118.9,896.8) scale(1,0.94)" class="ax" text-anchor="middle">10</text>
<line x1="159.5" y1="874.8" x2="159.5" y2="880.8" stroke="#4a4a4a" stroke-width="1"/>
<text transform="translate(159.91,896.8) scale(1,0.94)" class="ax" text-anchor="middle">15</text>
<line x1="200.5" y1="874.8" x2="200.5" y2="880.8" stroke="#4a4a4a" stroke-width="1"/>
<text transform="translate(200.93,896.8) scale(1,0.94)" class="ax" text-anchor="middle">20</text>
<line x1="32.5" y1="795.5" x2="38.5" y2="795.5" stroke="#4a4a4a" stroke-width="1"/>
<text transform="translate(24.5,795.8) rotate(-90) scale(0.92,1)" class="ax" text-anchor="middle">0.02</text>
<line x1="32.5" y1="811.5" x2="38.5" y2="811.5" stroke="#4a4a4a" stroke-width="1"/>
<line x1="32.5" y1="826.5" x2="38.5" y2="826.5" stroke="#4a4a4a" stroke-width="1"/>
<text transform="translate(24.5,826.6) rotate(-90) scale(0.92,1)" class="ax" text-anchor="middle">-0.02</text>
<line x1="32.5" y1="842.5" x2="38.5" y2="842.5" stroke="#4a4a4a" stroke-width="1"/>
<line x1="32.5" y1="857.5" x2="38.5" y2="857.5" stroke="#4a4a4a" stroke-width="1"/>
<line x1="32.5" y1="872.5" x2="38.5" y2="872.5" stroke="#4a4a4a" stroke-width="1"/>
<text transform="translate(24.5,872.8) rotate(-90) scale(0.92,1)" class="ax" text-anchor="middle">-0.08</text>
<text x="272.85" y="773.2" class="ti" textLength="149.4" lengthAdjust="spacingAndGlyphs">on pork import price</text>
<polyline points="277.81,830.5 285.96,836.7 294.1,828.4 302.25,812.3 310.39,816.2 318.53,822 326.68,826.3 334.82,829.3 342.96,831.1 351.11,831.9 359.25,832.3 367.39,831.9 375.54,831.4 383.68,831.1 391.82,830.9 399.97,830.7 408.11,830.7 416.25,830.7 424.4,830.7 432.54,830.7 440.69,830.7" fill="none" stroke="#484848" stroke-width="1.05"/>
<line x1="271.3" y1="830.5" x2="447.2" y2="830.5" stroke="#ff6a6a" stroke-width="1.15"/>
<polyline points="277.81,830.5 285.96,803 294.1,797.8 302.25,788.1 310.39,803 318.53,810.9 326.68,816.2 334.82,823.7 342.96,825.8 351.11,825.5 359.25,826.3 367.39,827.2 375.54,827.2 383.68,826.7 391.82,826.2 399.97,825.8 408.11,827 416.25,827.9 424.4,828.4 432.54,828.8 440.69,829.3" fill="none" stroke="#ff5a5a" stroke-width="1.1" stroke-dasharray="3.2 2"/>
<polyline points="277.81,830.5 285.96,870.5 294.1,844.2 302.25,831.9 310.39,829 318.53,835.1 326.68,835.4 334.82,837.7 342.96,840.2 351.11,841.2 359.25,839 367.39,836.3 375.54,834.9 383.68,834 391.82,833.3 399.97,832.8 408.11,832.5 416.25,832.4 424.4,832.5 432.54,832.8 440.69,833.2" fill="none" stroke="#ff5a5a" stroke-width="1.1" stroke-dasharray="3.2 2"/>
<rect x="271.5" y="783.5" width="176" height="91" fill="none" stroke="#555555" stroke-width="1"/>
<line x1="310.5" y1="874.4" x2="310.5" y2="880.4" stroke="#4a4a4a" stroke-width="1"/>
<text transform="translate(310.39,896.8) scale(1,0.94)" class="ax" text-anchor="middle">5</text>
<line x1="351.5" y1="874.4" x2="351.5" y2="880.4" stroke="#4a4a4a" stroke-width="1"/>
<text transform="translate(351.11,896.8) scale(1,0.94)" class="ax" text-anchor="middle">10</text>
<line x1="391.5" y1="874.4" x2="391.5" y2="880.4" stroke="#4a4a4a" stroke-width="1"/>
<text transform="translate(391.82,896.8) scale(1,0.94)" class="ax" text-anchor="middle">15</text>
<line x1="432.5" y1="874.4" x2="432.5" y2="880.4" stroke="#4a4a4a" stroke-width="1"/>
<text transform="translate(432.54,896.8) scale(1,0.94)" class="ax" text-anchor="middle">20</text>
<line x1="265.3" y1="792.5" x2="271.3" y2="792.5" stroke="#4a4a4a" stroke-width="1"/>
<text transform="translate(257.5,792.5) rotate(-90) scale(0.92,1)" class="ax" text-anchor="middle">0.2</text>
<line x1="265.3" y1="811.5" x2="271.3" y2="811.5" stroke="#4a4a4a" stroke-width="1"/>
<line x1="265.3" y1="830.5" x2="271.3" y2="830.5" stroke="#4a4a4a" stroke-width="1"/>
<text transform="translate(257.5,830.44) rotate(-90) scale(0.92,1)" class="ax" text-anchor="middle">0.0</text>
<line x1="265.3" y1="849.5" x2="271.3" y2="849.5" stroke="#4a4a4a" stroke-width="1"/>
<line x1="265.3" y1="868.5" x2="271.3" y2="868.5" stroke="#4a4a4a" stroke-width="1"/>
<text transform="translate(257.5,868.38) rotate(-90) scale(0.92,1)" class="ax" text-anchor="middle">-0.2</text>
<text x="489.45" y="773.2" class="ti" textLength="167.9" lengthAdjust="spacingAndGlyphs">on poultry import price</text>
<polyline points="502.66,840.2 510.86,837.5 519.06,828.8 527.26,830.7 535.46,832.8 543.65,835.1 551.85,836.8 560.05,838.1 568.25,838.9 576.45,839.5 584.65,839.9 592.85,840.2 601.05,840.2 609.25,840.2 617.45,840.2 625.65,840.2 633.84,840.2 642.04,840.2 650.24,840.2 658.44,840.2 666.64,840.2" fill="none" stroke="#484848" stroke-width="1.05"/>
<line x1="496.1" y1="840.2" x2="673.2" y2="840.2" stroke="#ff6a6a" stroke-width="1.15"/>
<polyline points="502.66,840.3 510.86,785.5 519.06,792.5 527.26,808.3 535.46,820.2 543.65,826.7 551.85,830.7 560.05,832.8 568.25,834.6 576.45,835.9 584.65,837.1 592.85,838 601.05,838.5 609.25,838.8 617.45,838.81 625.65,838.83 633.84,838.84 642.04,838.86 650.24,838.87 658.44,838.89 666.64,838.9" fill="none" stroke="#ff5a5a" stroke-width="1.1" stroke-dasharray="3.2 2"/>
<polyline points="502.66,840.3 510.86,867.9 519.06,846 527.26,843 535.46,841 543.65,841.6 551.85,842.4 560.05,843.3 568.25,843.3 576.45,842.5 584.65,842.1 592.85,842.4 601.05,842.6 609.25,843 617.45,843.3 625.65,843.4 633.84,843.3 642.04,843 650.24,842.7 658.44,842.5 666.64,842.1" fill="none" stroke="#ff5a5a" stroke-width="1.1" stroke-dasharray="3.2 2"/>
<rect x="496.5" y="782.5" width="177" height="89" fill="none" stroke="#555555" stroke-width="1"/>
<line x1="535.5" y1="871.6" x2="535.5" y2="877.6" stroke="#4a4a4a" stroke-width="1"/>
<text transform="translate(535.46,894.2) scale(1,0.94)" class="ax" text-anchor="middle">5</text>
<line x1="576.5" y1="871.6" x2="576.5" y2="877.6" stroke="#4a4a4a" stroke-width="1"/>
<text transform="translate(576.45,894.2) scale(1,0.94)" class="ax" text-anchor="middle">10</text>
<line x1="617.5" y1="871.6" x2="617.5" y2="877.6" stroke="#4a4a4a" stroke-width="1"/>
<text transform="translate(617.45,894.2) scale(1,0.94)" class="ax" text-anchor="middle">15</text>
<line x1="658.5" y1="871.6" x2="658.5" y2="877.6" stroke="#4a4a4a" stroke-width="1"/>
<text transform="translate(658.44,894.2) scale(1,0.94)" class="ax" text-anchor="middle">20</text>
<line x1="490.1" y1="796.5" x2="496.1" y2="796.5" stroke="#4a4a4a" stroke-width="1"/>
<line x1="490.1" y1="818.5" x2="496.1" y2="818.5" stroke="#4a4a4a" stroke-width="1"/>
<text transform="translate(481.9,818.4) rotate(-90) scale(0.92,1)" class="ax" text-anchor="middle">0.05</text>
<line x1="490.1" y1="840.5" x2="496.1" y2="840.5" stroke="#4a4a4a" stroke-width="1"/>
<line x1="490.1" y1="862.5" x2="496.1" y2="862.5" stroke="#4a4a4a" stroke-width="1"/>
<text transform="translate(481.9,862.2) rotate(-90) scale(0.92,1)" class="ax" text-anchor="middle">-0.05</text>
<line x1="6.0" y1="900.5" x2="679.4" y2="900.5" stroke="#2a2a2a" stroke-width="1"/>
<text x="8.1" y="912.7" class="nt" textLength="668.4" lengthAdjust="spacing">Notes: The prices are in first differences. The y-axis shows the price response, the x-axis shows the periods in months. The impulse response</text>
<text x="8.1" y="925.6" class="nt" textLength="549.6" lengthAdjust="spacing">functions are non-cumulative. The plotted confidence intervals are 95%, the error bands are bootstrapped (200 runs).</text>
</g>
</svg>
</body></html>
